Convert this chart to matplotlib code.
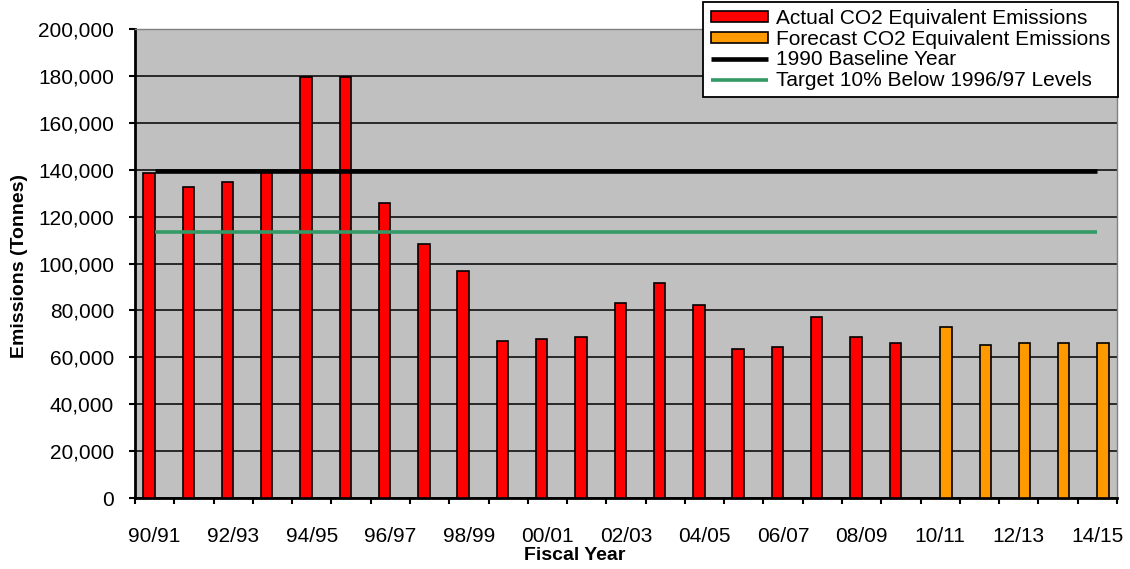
import numpy as np
import matplotlib.pyplot as plt
from matplotlib.ticker import FuncFormatter, FixedLocator

plt.rcParams['font.family'] = ['Liberation Sans', 'DejaVu Sans']

# fiscal years 90/91 .. 14/15
years = ["90/91", "91/92", "92/93", "93/94", "94/95", "95/96", "96/97", "97/98",
         "98/99", "99/00", "00/01", "01/02", "02/03", "03/04", "04/05", "05/06",
         "06/07", "07/08", "08/09", "09/10", "10/11", "11/12", "12/13", "13/14", "14/15"]

# actual emissions (tonnes), 90/91 - 09/10
actual = [138800, 132700, 134600, 138900, 179700, 179700, 126000, 108200,
          96900, 67100, 67900, 68800, 83300, 91800, 82400, 63700,
          64500, 77300, 68800, 66200]

# forecast emissions (tonnes), 10/11 - 14/15
forecast = [73000, 65200, 66200, 66200, 66200]

baseline_1990 = 139400
target = 113400

x = np.arange(len(years))
x_act = x[:len(actual)]
x_fc = x[len(actual):]

fig = plt.figure(figsize=(11.3, 5.69), dpi=100)
ax = fig.add_axes([135/1130, 1 - 498/569, (1117 - 135)/1130, (498 - 29)/569])
ax.set_facecolor("#C0C0C0")

bw = 0.29
b1 = ax.bar(x_act - bw/2, actual, width=bw, color="#FF0000", edgecolor="black",
            linewidth=1.2, zorder=3, label="Actual CO2 Equivalent Emissions")
b2 = ax.bar(x_fc + bw/2, forecast, width=bw, color="#FF9900", edgecolor="black",
            linewidth=1.2, zorder=3, label="Forecast CO2 Equivalent Emissions")
l1, = ax.plot([x[0], x[-1]], [baseline_1990, baseline_1990], color="black", lw=3.3,
              zorder=4, label="1990 Baseline Year", solid_capstyle="butt")
l2, = ax.plot([x[0], x[-1]], [target, target], color="#339966", lw=2.6,
              zorder=4, label="Target 10% Below 1996/97 Levels", solid_capstyle="butt")

ax.set_xlim(-0.5, len(years) - 0.5)
ax.set_ylim(0, 200000)
ax.set_yticks(np.arange(0, 200001, 20000))
ax.yaxis.set_major_formatter(FuncFormatter(lambda v, p: f"{int(v):,}"))
ax.grid(axis="y", color="black", lw=1.1, zorder=1)

# labels every other year at centres, tick marks at category borders
ax.set_xticks(x[::2])
ax.set_xticklabels(years[::2])
ax.xaxis.set_minor_locator(FixedLocator(np.arange(-0.5, len(years), 1)))
ax.tick_params(axis="x", which="major", length=0, pad=21, labelsize=15)
ax.tick_params(axis="x", which="minor", length=4, width=1.5, direction="out")
ax.tick_params(axis="y", length=4, width=1.5, pad=11, labelsize=15)

for s in ["left", "bottom"]:
    ax.spines[s].set_linewidth(2)
    ax.spines[s].set_color("black")
for s in ["top", "right"]:
    ax.spines[s].set_linewidth(1)
    ax.spines[s].set_color("#808080")

fig.text(575/1130, 1 - 556/569, "Fiscal Year", ha="center", va="center",
         fontsize=14, fontweight="bold")
fig.text(20/1130, 1 - 266/569, "Emissions (Tonnes)", ha="center", va="center",
         rotation=90, fontsize=14, fontweight="bold")

leg = ax.legend(handles=[b1, b2, l1, l2], loc="upper right",
                bbox_to_anchor=(1.001, 1.058), fontsize=15,
                frameon=True, fancybox=False, framealpha=1, edgecolor="black",
                handlelength=2.75, handleheight=0.45, handletextpad=0.4,
                labelspacing=0.08, borderpad=0.35, borderaxespad=0)
leg.get_frame().set_linewidth(1.3)
leg.set_zorder(10)

fig.savefig("out.png", dpi=100, facecolor="white")
